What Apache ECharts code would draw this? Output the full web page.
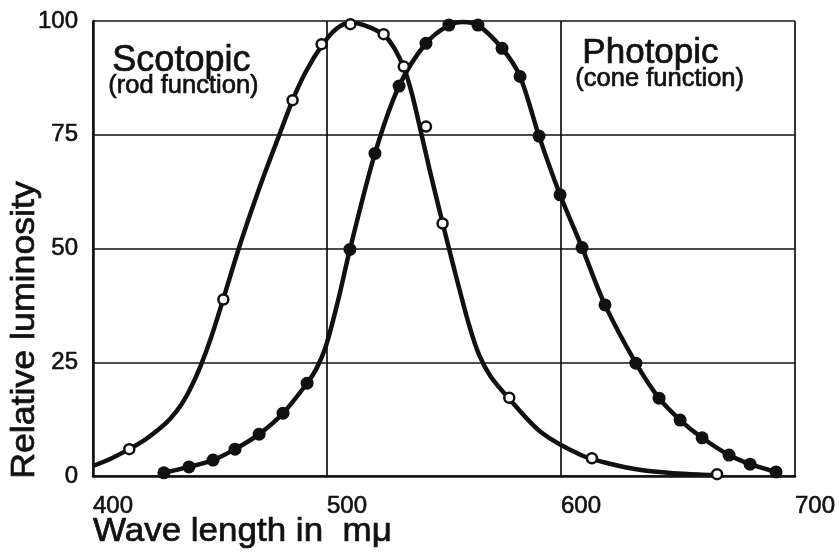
<!DOCTYPE html>
<html>
<head>
<meta charset="utf-8">
<script src="https://cdn.jsdelivr.net/npm/echarts@6/dist/echarts.min.js"></script>
<style>
  html, body { margin: 0; padding: 0; background: #fff; }
  #chart { width: 839px; height: 558px; }
</style>
</head>
<body>
<div id="chart"></div>
<script>
// Axis ticks
const xTicks = [400, 500, 600, 700];
const yTicks = [0, 25, 50, 75, 100];

// Scotopic (rod) measurements: open circles
const scotopicWl  = [415.5, 455.7, 485.3, 497.7, 510.0, 524.2, 532.8, 542.3, 549.4, 577.9, 613.2, 666.7];
const scotopicVal = [5.9, 38.8, 82.6, 94.9, 99.3, 97.1, 90.0, 76.8, 55.5, 17.2, 3.9, 0.4];

// Photopic (cone) measurements: filled dots
const photopicWl  = [430.3, 441.0, 451.3, 460.7, 471.0, 481.2, 491.5, 509.8, 520.5, 530.8, 542.3, 552.1,
                     564.5, 574.8, 582.5, 590.6, 599.6, 609.0, 618.8, 632.0, 641.9, 650.9, 660.3, 671.8,
                     680.8, 691.9];
const photopicVal = [0.7, 2.0, 3.5, 5.9, 9.2, 13.8, 20.4, 49.8, 70.9, 85.7, 95.1, 99.1,
                     99.1, 94.0, 87.8, 74.7, 61.8, 50.2, 37.6, 24.8, 17.1, 12.3, 8.4, 4.6,
                     2.6, 0.9];

// Fitted rod curve
const scotopicCurveWl  = [400.0, 408.0, 415.4, 422.0, 428.0, 433.0, 438.0, 442.0, 446.0, 450.5, 455.6,
                          462.0, 467.5, 473.0, 479.5, 485.3, 491.0, 497.9, 503.8, 509.8, 515.8, 524.4,
                          529.0, 533.0, 536.2, 539.3, 544.0, 549.4, 555.0, 560.7, 565.0, 570.0, 577.8,
                          591.5, 608.5, 620.0, 634.2, 648.0, 660.0, 668.0];
const scotopicCurveVal = [2.2, 3.9, 5.9, 7.9, 10.2, 12.6, 15.9, 19.6, 24.2, 30.5, 38.8,
                          49.5, 58.0, 66.0, 74.8, 82.6, 88.9, 94.7, 98.2, 99.6, 99.1, 96.9,
                          93.8, 89.5, 84.2, 77.5, 67.0, 55.6, 44.2, 33.2, 26.6, 21.8, 17.0,
                          9.6, 4.6, 2.8, 1.3, 0.6, 0.3, 0.2];

// Fitted cone curve
const photopicCurveWl  = [430.3, 441.0, 451.3, 460.7, 471.0, 481.2, 491.5, 495.5, 499.5, 504.7, 509.8,
                          520.5, 530.8, 542.3, 552.1, 558.1, 564.5, 574.8, 582.5, 590.6, 599.6, 609.0,
                          618.8, 632.0, 641.9, 650.9, 660.3, 671.8, 680.8, 691.9];
const photopicCurveVal = [0.7, 2.0, 3.5, 5.9, 9.2, 13.8, 20.4, 23.6, 28.5, 38.5, 49.8,
                          70.9, 85.7, 95.1, 99.1, 99.8, 99.1, 94.0, 87.8, 74.7, 61.8, 50.2,
                          37.6, 24.8, 17.1, 12.3, 8.4, 4.6, 2.6, 0.9];

const pairs = (xs, ys) => xs.map((x, i) => [x, ys[i]]);

const FONT = '"Liberation Sans", Arial, Helvetica, sans-serif';
const INK = '#111';

const chart = echarts.init(document.getElementById('chart'), null, { renderer: 'canvas' });

// Heavier text, like a printed sans-serif
const textStyle = (size, txt, extra) => Object.assign({
  text: txt, font: size + 'px ' + FONT, fill: INK, stroke: INK, lineWidth: 0.7
}, extra || {});

chart.setOption({
  backgroundColor: '#fff',
  animation: false,
  grid: { left: 93, right: 44, top: 21, bottom: 82 },
  xAxis: {
    type: 'value',
    min: xTicks[0],
    max: xTicks[xTicks.length - 1],
    interval: 100,
    axisLine: { show: true, lineStyle: { color: INK, width: 2.5 } },
    axisTick: { show: false },
    splitLine: { show: true, lineStyle: { color: INK, width: 1.7 } },
    axisLabel: {
      color: INK, fontFamily: FONT, fontSize: 24, align: 'left', margin: 18,
      textBorderColor: INK, textBorderWidth: 0.6
    }
  },
  yAxis: {
    type: 'value',
    min: yTicks[0],
    max: yTicks[yTicks.length - 1],
    interval: 25,
    axisLine: { show: true, lineStyle: { color: INK, width: 2.5 } },
    axisTick: { show: false },
    splitLine: { show: true, lineStyle: { color: INK, width: 1.7 } },
    axisLabel: {
      color: INK, fontFamily: FONT, fontSize: 24, margin: 15,
      padding: [0, 0, 6, 0],
      textBorderColor: INK, textBorderWidth: 0.6
    }
  },
  series: [
    {
      name: 'Scotopic curve', type: 'line', smooth: 0.3, showSymbol: false, z: 3,
      lineStyle: { color: INK, width: 4.5 },
      data: pairs(scotopicCurveWl, scotopicCurveVal)
    },
    {
      name: 'Photopic curve', type: 'line', smooth: 0.3, showSymbol: false, z: 3,
      lineStyle: { color: INK, width: 4.5 },
      data: pairs(photopicCurveWl, photopicCurveVal)
    },
    {
      name: 'Scotopic', type: 'scatter', z: 5, symbol: 'circle', symbolSize: 10,
      itemStyle: { color: '#fff', borderColor: INK, borderWidth: 2.5, opacity: 1 },
      data: pairs(scotopicWl, scotopicVal)
    },
    {
      name: 'Photopic', type: 'scatter', z: 5, symbol: 'circle', symbolSize: 13,
      itemStyle: { color: INK, opacity: 1 },
      data: pairs(photopicWl, photopicVal)
    }
  ],
  graphic: [
    { type: 'text', left: 112, top: 43, z: 10,
      style: textStyle(36, 'Scotopic') },
    { type: 'text', left: 108, top: 73, z: 10,
      style: textStyle(25.5, '(rod function)') },
    { type: 'text', left: 582, top: 35, z: 10,
      style: textStyle(35, 'Photopic') },
    { type: 'text', left: 575, top: 66, z: 10,
      style: textStyle(25.5, '(cone function)') },
    { type: 'text', x: 93, y: 515, scaleX: 1.06, z: 10,
      style: textStyle(33, 'Wave length in  m\u03bc') },
    { type: 'text', x: 25, y: 330, rotation: Math.PI / 2, scaleX: 1.05, z: 10,
      style: textStyle(34, 'Relative luminosity', { align: 'center', verticalAlign: 'middle' }) }
  ]
});
</script>
</body>
</html>
